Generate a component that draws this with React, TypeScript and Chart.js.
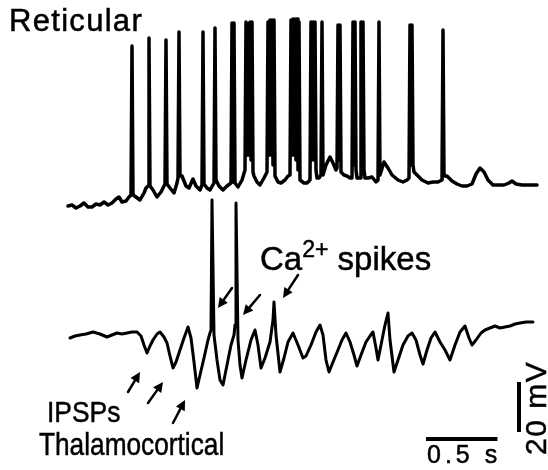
import React, { useEffect, useRef } from "react";
import { Chart, registerables } from "chart.js";

Chart.register(...registerables);

// Reticular neuron trace: [time (ms), membrane potential (mV)]
const reticularTrace: [number, number][] = [
  [-14, -70.4], [14, -70.0], [42, -71.2], [70, -70.4], [98, -69.2], [126, -70.8], [154, -70.8], [182, -69.6],
  [210, -70.0], [238, -68.8], [266, -70.0], [294, -69.2], [322, -67.6], [343, -66.8], [364, -68.8], [392, -68.4],
  [413, -66.8], [427, -66.0], [434, -6.4], [441, -66.0], [462, -66.8], [490, -68.0], [518, -65.2], [532, -63.2],
  [546, -62.4], [553, -3.2], [560, -62.4], [581, -64.0], [609, -66.8], [637, -64.8], [658, -62.4], [665, -61.6],
  [672, -4.0], [679, -61.6], [700, -63.2], [728, -65.2], [749, -61.2], [756, -59.2], [763, -0.8], [770, -58.4],
  [784, -58.4], [812, -62.4], [833, -63.2], [861, -59.6], [882, -62.4], [910, -64.0], [924, -62.0], [931, -0.8],
  [938, -61.6], [959, -63.2], [980, -64.0], [1008, -61.2], [1015, 0.8], [1022, -60.0], [1043, -62.4], [1071, -64.0],
  [1099, -62.4], [1127, -61.2], [1134, 2.8], [1141, -60.8], [1148, 2.8], [1155, -61.2], [1176, -62.8], [1204, -60.0],
  [1225, -56.0], [1232, 3.2], [1239, -50.0], [1246, 2.4], [1253, -50.0], [1260, 3.2], [1267, -52.0], [1274, 3.2],
  [1281, -56.8], [1288, -58.4], [1309, -60.8], [1330, -62.0], [1358, -59.2], [1379, -56.8], [1386, 3.2], [1393, -50.0],
  [1400, 4.0], [1407, -50.0], [1414, 4.0], [1421, -54.0], [1428, 4.0], [1435, -58.4], [1456, -60.8], [1477, -61.2],
  [1505, -60.0], [1526, -58.4], [1540, -58.0], [1547, 4.0], [1554, -50.0], [1561, 4.4], [1568, -50.0], [1575, 4.4],
  [1582, -52.0], [1589, 4.4], [1596, -56.0], [1603, 3.2], [1610, -60.0], [1638, -61.2], [1659, -61.2], [1680, -60.0],
  [1687, 3.2], [1694, -52.0], [1701, 3.2], [1708, -52.0], [1715, 3.2], [1722, -56.0], [1729, -59.2], [1743, -59.2],
  [1757, -58.0], [1764, 3.2], [1771, -58.0], [1792, -54.0], [1820, -50.8], [1841, -53.2], [1862, -56.0], [1869, -55.2],
  [1876, 2.0], [1883, -52.0], [1890, 2.0], [1897, -56.8], [1918, -58.0], [1939, -58.4], [1960, -59.2], [1974, -59.2],
  [1981, 3.2], [1988, -54.0], [1995, 3.2], [2002, -56.0], [2009, -59.2], [2030, -59.2], [2037, 3.2], [2044, -54.0],
  [2051, 3.2], [2058, -56.0], [2065, -59.2], [2086, -59.2], [2114, -58.8], [2142, -60.8], [2156, -60.0], [2163, 3.2],
  [2170, -58.0], [2198, -52.8], [2226, -55.2], [2254, -58.0], [2296, -60.0], [2331, -60.8], [2359, -60.0], [2373, -59.2],
  [2380, 2.0], [2387, -54.0], [2394, 2.0], [2401, -54.0], [2408, -56.8], [2429, -58.0], [2464, -60.0], [2506, -61.2],
  [2541, -60.8], [2576, -60.8], [2604, -60.0], [2611, 0.0], [2618, -58.4], [2639, -58.4], [2674, -60.4], [2709, -61.6],
  [2744, -62.4], [2779, -62.4], [2814, -61.6], [2842, -57.6], [2870, -55.2], [2898, -56.8], [2926, -60.0], [2961, -62.0],
  [2996, -62.0], [3038, -62.0], [3073, -61.2], [3094, -60.4], [3122, -61.6], [3164, -62.0], [3220, -62.0], [3269, -62.0],
];

// Thalamocortical neuron trace: [time (ms), membrane potential (mV)]
const thalamocorticalTrace: [number, number][] = [
  [0, -61.2], [35, -60.4], [70, -60.0], [112, -59.6], [161, -58.8], [210, -59.6], [259, -60.8], [294, -60.0],
  [329, -59.2], [364, -59.6], [399, -59.2], [434, -58.8], [469, -58.8], [497, -60.4], [518, -64.0], [539, -67.2],
  [560, -64.4], [581, -62.0], [609, -59.6], [630, -58.8], [658, -60.8], [679, -63.2], [700, -68.4], [721, -73.2],
  [742, -70.8], [770, -66.0], [798, -61.2], [826, -56.8], [847, -61.2], [868, -70.8], [889, -81.2], [910, -76.0],
  [938, -69.2], [966, -62.0], [980, -59.2], [987, -58.0], [994, -6.0], [1008, -60.0], [1029, -70.0], [1050, -78.0],
  [1071, -80.0], [1099, -72.0], [1127, -64.0], [1148, -60.0], [1155, -56.0], [1162, -7.2], [1176, -62.0], [1190, -72.0],
  [1204, -77.2], [1232, -70.0], [1267, -62.0], [1295, -58.0], [1316, -64.0], [1337, -73.2], [1365, -69.2], [1400, -62.8],
  [1421, -54.0], [1428, -46.8], [1442, -60.0], [1470, -74.8], [1498, -69.2], [1526, -62.8], [1561, -59.2], [1596, -64.0],
  [1631, -69.2], [1652, -68.4], [1687, -64.0], [1722, -58.8], [1750, -56.0], [1771, -60.0], [1792, -70.0], [1813, -74.8],
  [1841, -70.8], [1876, -66.0], [1904, -62.0], [1932, -59.2], [1960, -62.8], [1988, -68.0], [2009, -72.4], [2037, -68.0],
  [2072, -62.8], [2100, -60.4], [2121, -58.8], [2142, -65.2], [2156, -70.0], [2177, -64.0], [2205, -56.0], [2226, -51.2],
  [2240, -62.0], [2268, -74.8], [2296, -70.0], [2331, -64.0], [2366, -60.4], [2394, -59.2], [2422, -62.0], [2450, -68.0],
  [2471, -71.6], [2499, -66.0], [2527, -61.2], [2555, -58.8], [2590, -62.8], [2625, -66.0], [2660, -70.0], [2695, -64.0],
  [2730, -58.8], [2765, -56.4], [2793, -61.2], [2814, -64.0], [2842, -62.0], [2877, -59.2], [2905, -58.0], [2940, -57.2],
  [2975, -56.4], [3010, -57.2], [3045, -56.8], [3080, -56.4], [3115, -55.6], [3150, -55.2], [3192, -54.8], [3241, -54.8],
];

// Scale bars (in thalamocortical axis units): 500 ms and 20 mV
const timeBar: [number, number][] = [[2492, -101.6], [2992, -101.6]];
const voltageBar: [number, number][] = [[3143, -98.8], [3143, -78.8]];

// Annotation arrows: [tailTime, tailMv, headTime, headMv]
const caSpikeArrows: [number, number, number, number][] = [
  [1134, -41.2, 1036, -49.2],
  [1330, -44.0, 1211, -52.0],
  [1596, -36.0, 1491, -45.2],
];
const ipspArrows: [number, number, number, number][] = [
  [406, -82.8, 490, -74.8],
  [546, -87.2, 651, -78.8],
  [721, -95.2, 805, -86.0],
];

const toXY = (arr: [number, number][]) => arr.map(([x, y]) => ({ x, y }));

const arrowPlugin = {
  id: "arrows",
  afterDatasetsDraw(chart: any) {
    const ctx = chart.ctx;
    const xs = chart.scales.x;
    const ys = chart.scales.yBot;
    ctx.save();
    ctx.strokeStyle = "#000";
    ctx.fillStyle = "#000";
    ctx.lineWidth = 2.5;
    ctx.lineCap = "round";
    [...caSpikeArrows, ...ipspArrows].forEach(([t0, v0, t1, v1]) => {
      const x0 = xs.getPixelForValue(t0);
      const y0 = ys.getPixelForValue(v0);
      const x1 = xs.getPixelForValue(t1);
      const y1 = ys.getPixelForValue(v1);
      const ang = Math.atan2(y1 - y0, x1 - x0);
      const headLen = 10;
      const headHalf = 5;
      const bx = x1 - headLen * Math.cos(ang);
      const by = y1 - headLen * Math.sin(ang);
      ctx.beginPath();
      ctx.moveTo(x0, y0);
      ctx.lineTo(bx, by);
      ctx.stroke();
      ctx.beginPath();
      ctx.moveTo(x1, y1);
      ctx.lineTo(bx + headHalf * Math.sin(ang), by - headHalf * Math.cos(ang));
      ctx.lineTo(bx - headHalf * Math.sin(ang), by + headHalf * Math.cos(ang));
      ctx.closePath();
      ctx.fill();
    });
    ctx.restore();
  },
};

const FONT = '"Liberation Sans", Arial, Helvetica, sans-serif';

export default function App() {
  const canvasRef = useRef<HTMLCanvasElement | null>(null);

  useEffect(() => {
    if (!canvasRef.current) return;
    const traceStyle = {
      borderColor: "#000",
      pointRadius: 0,
      tension: 0,
      fill: false,
      borderJoinStyle: "round" as const,
      borderCapStyle: "round" as const,
    };
    const chart = new Chart(canvasRef.current, {
      type: "line",
      data: {
        datasets: [
          { label: "Reticular", data: toXY(reticularTrace), yAxisID: "yTop", borderWidth: 3.5, ...traceStyle },
          { label: "Thalamocortical", data: toXY(thalamocorticalTrace), yAxisID: "yBot", borderWidth: 3, ...traceStyle },
          { label: "0.5 s", data: toXY(timeBar), yAxisID: "yBot", borderColor: "#000", borderWidth: 4, pointRadius: 0, borderCapStyle: "butt" as const },
          { label: "20 mV", data: toXY(voltageBar), yAxisID: "yBot", borderColor: "#000", borderWidth: 4, pointRadius: 0, borderCapStyle: "butt" as const },
        ],
      },
      options: {
        responsive: false,
        animation: false,
        events: [],
        layout: { padding: 0 },
        parsing: true,
        plugins: { legend: { display: false }, tooltip: { enabled: false }, title: { display: false } },
        scales: {
          x: { type: "linear", min: -490, max: 3346, display: false },
          yTop: { type: "linear", min: -176, max: 12, display: false },
          yBot: { type: "linear", min: -114, max: 74, display: false },
        },
      },
      plugins: [arrowPlugin],
    });
    return () => chart.destroy();
  }, []);

  const base: React.CSSProperties = {
    position: "absolute",
    fontFamily: FONT,
    color: "#000",
    lineHeight: 1,
    whiteSpace: "nowrap",
    margin: 0,
    WebkitTextStroke: "0.5px #000",
  };

  return (
    <div style={{ position: "absolute", left: 0, top: 0, width: 548, height: 470, background: "#fff", overflow: "hidden" }}>
      <canvas ref={canvasRef} width={548} height={470} style={{ position: "absolute", left: 0, top: 0 }} />
      <div style={{ ...base, left: 9, top: 5, fontSize: 31, letterSpacing: 1.3 }}>Reticular</div>
      <div style={{ ...base, left: 260, top: 242, fontSize: 33 }}>
        Ca<span style={{ fontSize: 23, position: "relative", top: -13 }}>2+</span> spikes
      </div>
      <div style={{ ...base, left: 47, top: 397, fontSize: 30, transform: "scaleX(0.88)", transformOrigin: "left top" }}>IPSPs</div>
      <div style={{ ...base, left: 39, top: 428, fontSize: 32, transform: "scaleX(0.82)", transformOrigin: "left top" }}>Thalamocortical</div>
      <div style={{ ...base, left: 427, top: 442, fontSize: 25, letterSpacing: 4 }}>0.5 s</div>
      <div style={{ ...base, left: 521, top: 455, fontSize: 30, letterSpacing: 1.5, transform: "rotate(-90deg)", transformOrigin: "left top" }}>20 mV</div>
    </div>
  );
}
